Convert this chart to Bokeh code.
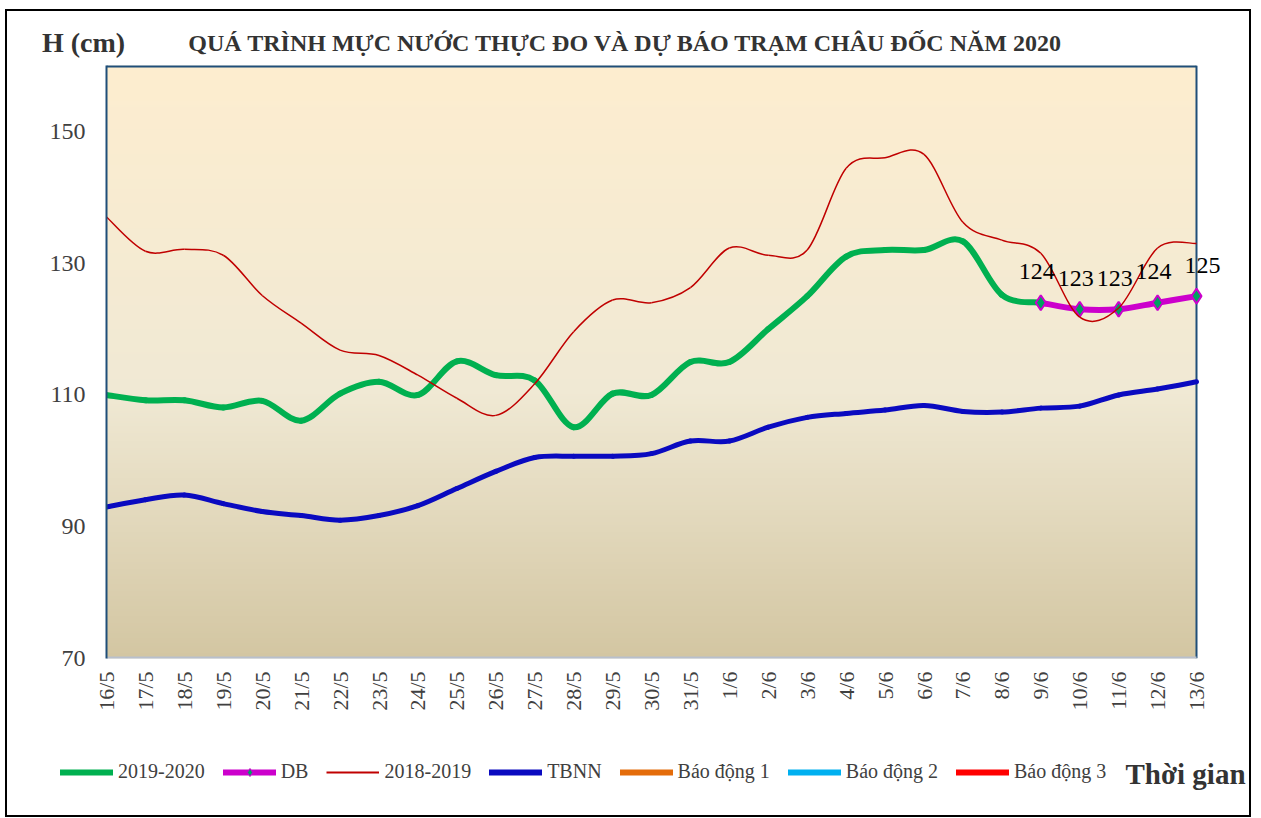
import numpy as np
from bokeh.plotting import figure
from bokeh.layouts import column
from bokeh.models import Range1d, FixedTicker, Legend, LegendItem
from bokeh.core.properties import value
from bokeh.embed import file_html
from bokeh.resources import INLINE

# ---------------- data ----------------
dates = ["16/5", "17/5", "18/5", "19/5", "20/5", "21/5", "22/5", "23/5", "24/5", "25/5",
         "26/5", "27/5", "28/5", "29/5", "30/5", "31/5", "1/6", "2/6", "3/6", "4/6",
         "5/6", "6/6", "7/6", "8/6", "9/6", "10/6", "11/6", "12/6", "13/6"]

# 2019-2020 observed (16/5 .. 9/6)
obs_2019_2020 = [110, 109.2, 109.2, 108.1, 109.1, 106.1, 110.2, 112, 110, 115.1,
                 113, 112.2, 105.1, 110.2, 110, 115, 115, 120, 125, 131,
                 132, 132, 133.3, 125.2, 124]
# forecast DB (9/6 .. 13/6)
db_dates = ["9/6", "10/6", "11/6", "12/6", "13/6"]
db_values = [124, 123, 123, 124, 125]
# 2018-2019
obs_2018_2019 = [137, 131.8, 132.1, 131.2, 125.1, 120.9, 116.8, 116, 113, 109.5,
                 106.9, 111.7, 119.6, 124.4, 124, 126.3, 132.3, 131.2, 132, 144.4,
                 146, 146.5, 136.2, 133.5, 131.5, 121.8, 123.2, 132.3, 133]
# TBNN (multi-year mean)
tbnn = [93, 94.1, 94.8, 93.5, 92.3, 91.7, 91, 91.7, 93.2, 95.8,
        98.4, 100.5, 100.7, 100.7, 101.1, 103, 103, 105.1, 106.6, 107.2,
        107.7, 108.4, 107.5, 107.4, 108, 108.3, 110, 110.9, 112]
y_ticks = [70, 90, 110, 130, 150]
y_min, y_max = 70, 160

GREEN = "#00B050"
MAGENTA = "#CC00CC"
RED_DARK = "#C00000"
BLUE = "#0A0AC0"
ORANGE = "#E46C0A"
LIGHTBLUE = "#00B0F0"
RED = "#FF0000"
FRAME_BLUE = "#1F4E79"
TXT = "#333333"
SERIF = "Liberation Serif"

idx = {d: i for i, d in enumerate(dates)}
x_last = len(dates) - 1


def smooth(xs, ys):
    """Catmull-Rom -> cubic Bezier control points for a smoothed line."""
    n = len(xs)
    out = {k: [] for k in ("x0", "y0", "x1", "y1", "cx0", "cy0", "cx1", "cy1")}
    for i in range(n - 1):
        a = i - 1 if i > 0 else i
        d = i + 2 if i + 2 < n else i + 1
        out["x0"].append(xs[i]); out["y0"].append(ys[i])
        out["x1"].append(xs[i + 1]); out["y1"].append(ys[i + 1])
        out["cx0"].append(xs[i] + (xs[i + 1] - xs[a]) / 6)
        out["cy0"].append(ys[i] + (ys[i + 1] - ys[a]) / 6)
        out["cx1"].append(xs[i + 1] - (xs[d] - xs[i]) / 6)
        out["cy1"].append(ys[i + 1] - (ys[d] - ys[i]) / 6)
    return out


def no_frame_align(f):
    if "frame_align" in type(f).properties():
        f.frame_align = False


W = 1242
H_TOP, H_MAIN, H_BOT = 50, 687, 67


def blank(h):
    f = figure(width=W, height=h, output_backend="svg", toolbar_location=None,
               x_range=Range1d(0, W), y_range=Range1d(0, h),
               x_axis_location=None, y_axis_location=None, min_border=0)
    f.xgrid.visible = False
    f.ygrid.visible = False
    f.outline_line_color = None
    f.background_fill_color = "white"
    f.border_fill_color = "white"
    no_frame_align(f)
    return f


# ---------------- top: captions ----------------
top = blank(H_TOP)
top.text(x=[76], y=[19], text=["H (cm)"], text_align="center", text_baseline="middle",
         text_font=value(SERIF), text_font_style="bold", text_font_size="28px", text_color=TXT)
top.text(x=[624], y=[19],
         text=["QUÁ TRÌNH MỰC NƯỚC THỰC ĐO VÀ DỰ BÁO TRẠM  CHÂU ĐỐC NĂM  2020"],
         text_align="center", text_baseline="middle", text_font=value(SERIF),
         text_font_style="bold", text_font_size="24px", text_color=TXT)

# ---------------- main chart ----------------
px_per_unit = (1196 - 106) / x_last
x_end = x_last + (1240 - 1196) / px_per_unit
p = figure(width=W, height=H_MAIN, output_backend="svg", toolbar_location=None,
           x_range=Range1d(0, x_end), y_range=Range1d(y_min, y_max),
           min_border_left=99, min_border_right=9, min_border_top=4, min_border_bottom=90)
p.background_fill_color = "white"
p.border_fill_color = "white"
p.outline_line_color = None
p.xgrid.visible = False
p.ygrid.visible = False
no_frame_align(p)

# gradient plot-area background
nrows = 240
stops = [(0.0, (211, 198, 162)), (0.45, (240, 233, 212)), (1.0, (253, 237, 207))]
img = np.zeros((nrows, 1), dtype=np.uint32)
view = img.view(dtype=np.uint8).reshape((nrows, 1, 4))
for r in range(nrows):
    f = r / (nrows - 1)
    col = stops[-1][1]
    for k in range(len(stops) - 1):
        f0, c0 = stops[k]
        f1, c1 = stops[k + 1]
        if f0 <= f <= f1:
            t = (f - f0) / (f1 - f0)
            col = [int(round(c0[j] + (c1[j] - c0[j]) * t)) for j in range(3)]
            break
    view[r, 0, 0], view[r, 0, 1], view[r, 0, 2] = col
    view[r, 0, 3] = 255
p.image_rgba(image=[img], x=0, y=y_min, dw=x_last, dh=y_max - y_min)

# plot-area border
p.segment(x0=[0], y0=[y_max], x1=[x_last], y1=[y_max], line_color=FRAME_BLUE, line_width=4)
p.segment(x0=[x_last], y0=[y_min], x1=[x_last], y1=[y_max], line_color=FRAME_BLUE, line_width=2)
p.segment(x0=[0], y0=[y_min], x1=[x_last], y1=[y_min], line_color="#B8BFCC", line_width=4)

# axes
xa = p.xaxis[0]
xa.ticker = FixedTicker(ticks=list(range(len(dates))))
xa.major_label_overrides = {i: d for i, d in enumerate(dates)}
xa.major_label_orientation = np.pi / 2
xa.major_label_text_font = SERIF
xa.major_label_text_font_size = "22px"
xa.major_label_text_color = "#404040"
xa.major_tick_line_color = None
xa.minor_tick_line_color = None
xa.axis_line_color = None
xa.major_label_standoff = 7

ya = p.yaxis[0]
ya.ticker = FixedTicker(ticks=y_ticks)
ya.major_label_text_font = SERIF
ya.major_label_text_font_size = "24px"
ya.major_label_text_color = "#404040"
ya.major_tick_line_color = None
ya.minor_tick_line_color = None
ya.axis_line_color = FRAME_BLUE
ya.axis_line_width = 2
ya.major_label_standoff = 15

# series (smoothed)
gx = list(range(len(obs_2019_2020)))
p.bezier(line_color=GREEN, line_width=6, line_cap="round", **smooth(gx, obs_2019_2020))

dx = [idx[d] for d in db_dates]
p.bezier(line_color=MAGENTA, line_width=6, line_cap="round", **smooth(dx, db_values))
p.scatter(dx, db_values, marker="diamond", size=15, fill_color="#00A060",
          line_color=MAGENTA, line_width=2)

rx = list(range(len(obs_2018_2019)))
p.bezier(line_color=RED_DARK, line_width=1.5, **smooth(rx, obs_2018_2019))

tx = list(range(len(tbnn)))
p.bezier(line_color=BLUE, line_width=5, line_cap="round", **smooth(tx, tbnn))

# DB value labels
p.text(x=dx, y=db_values, text=[str(v) for v in db_values], text_align="center",
       text_baseline="middle", y_offset=-31, x_offset=[-4, -4, -4, -4, 6],
       text_font=value(SERIF), text_font_size="24px", text_color="#000000")

# ---------------- bottom: legend ----------------
bot = blank(H_BOT)
nan = [np.nan]
l_g = bot.line(x=nan, y=nan, line_color=GREEN, line_width=6, line_cap="round")
l_db = bot.line(x=nan, y=nan, line_color=MAGENTA, line_width=6, line_cap="round")
m_db = bot.scatter(x=nan, y=nan, marker="diamond", size=10, fill_color="#00A060", line_color=MAGENTA)
l_r = bot.line(x=nan, y=nan, line_color=RED_DARK, line_width=2)
l_b = bot.line(x=nan, y=nan, line_color=BLUE, line_width=6, line_cap="round")
l_a1 = bot.line(x=nan, y=nan, line_color=ORANGE, line_width=6, line_cap="round")
l_a2 = bot.line(x=nan, y=nan, line_color=LIGHTBLUE, line_width=6, line_cap="round")
l_a3 = bot.line(x=nan, y=nan, line_color=RED, line_width=6, line_cap="round")

legend = Legend(items=[
    LegendItem(label="2019-2020", renderers=[l_g]),
    LegendItem(label="DB", renderers=[l_db, m_db]),
    LegendItem(label="2018-2019", renderers=[l_r]),
    LegendItem(label="TBNN", renderers=[l_b]),
    LegendItem(label="Báo động 1", renderers=[l_a1]),
    LegendItem(label="Báo động 2", renderers=[l_a2]),
    LegendItem(label="Báo động 3", renderers=[l_a3]),
], orientation="horizontal", location=(53, 32), glyph_width=53, glyph_height=20,
    label_standoff=5, spacing=18, padding=0, margin=0,
    label_text_font=SERIF, label_text_font_size="20px", label_text_color="#404040",
    border_line_color=None, background_fill_alpha=0)
bot.add_layout(legend)
bot.text(x=[1178], y=[42], text=["Thời gian"], text_align="center", text_baseline="middle",
         text_font=value(SERIF), text_font_style="bold", text_font_size="29px", text_color=TXT)

layout = column(top, p, bot, spacing=0,
                styles={"border": "2px solid #000000", "margin-left": "5px", "margin-top": "9px"})

open("out.html", "w").write(file_html(layout, INLINE))
